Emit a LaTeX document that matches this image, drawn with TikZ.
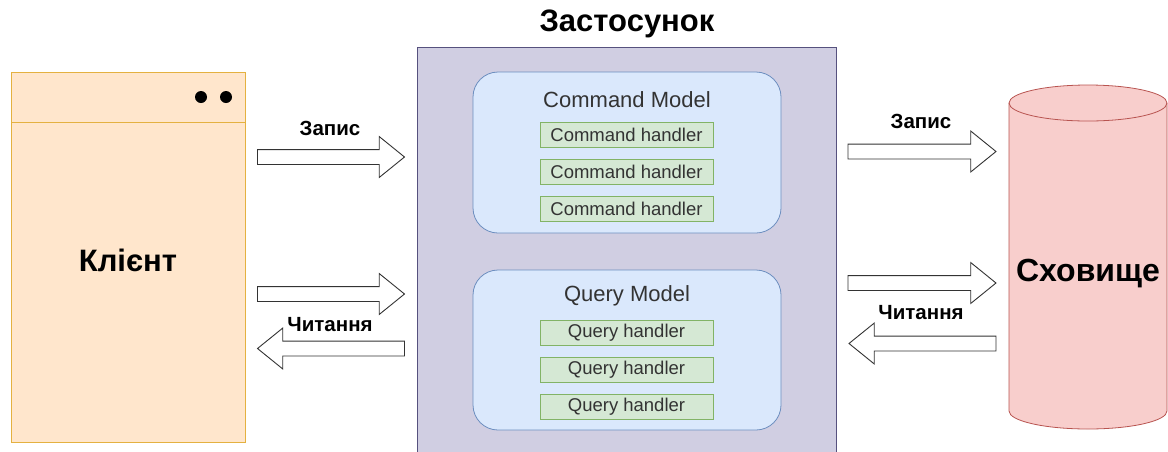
\documentclass[tikz,border=0pt]{standalone}
\usepackage{fontspec}
\setmainfont{Liberation Sans}
\usetikzlibrary{shapes.arrows}

\definecolor{clientfill}{HTML}{FFE6CC}
\definecolor{clientline}{HTML}{E4B140}
\definecolor{appfill}{HTML}{D0CEE2}
\definecolor{appline}{HTML}{56517E}
\definecolor{modelfill}{HTML}{DAE8FC}
\definecolor{modelline}{HTML}{6C8EBF}
\definecolor{handlerfill}{HTML}{D5E8D4}
\definecolor{handlerline}{HTML}{82B366}
\definecolor{storefill}{HTML}{F8CECC}
\definecolor{storeline}{HTML}{B85450}
\definecolor{arrowline}{HTML}{333333}
\definecolor{softtext}{HTML}{333333}

\begin{document}
\begin{tikzpicture}[x=1pt,y=-1pt,
  every node/.style={inner sep=0pt, outer sep=0pt},
  model/.style={draw=modelline, fill=modelfill, line width=0.8pt, rounded corners=25pt,
    minimum width=308pt},
  handler/.style={draw=handlerline, fill=handlerfill, line width=0.8pt,
    minimum width=173pt, minimum height=25pt, text=softtext, font=\fontsize{18.5}{20}\selectfont},
  modeltitle/.style={text=softtext, font=\fontsize{22}{24}\selectfont},
  blockarrow/.style={single arrow, draw=arrowline, fill=white, line width=0.9pt,
    inner xsep=0pt, inner ysep=7pt, single arrow head extend=13pt,
    single arrow tip angle=78, minimum height=147pt, anchor=tail},
  leftward/.style={shape border rotate=180},
  arrowlabel/.style={font=\bfseries\fontsize{20.5}{23}\selectfont},
  biglabel/.style={font=\bfseries\fontsize{31}{34}\selectfont}
]
\useasboundingbox (0,0) rectangle (1168,451);
\clip (0,0) rectangle (1168,451);

% client window
\node[draw=clientline, fill=clientfill, line width=0.9pt,
      minimum width=234pt, minimum height=370pt] (client) at (128,257) {};
\draw[clientline, line width=0.9pt] (11,122) -- (245,122);
\fill (201,97) circle[radius=6pt] (226,97) circle[radius=6pt];
\node[biglabel] (clientlabel) at (128,260) {Клієнт};

% application container
\node[draw=appline, fill=appfill, line width=0.8pt,
      minimum width=419pt, minimum height=420pt] (app) at (626.5,257) {};
\node[biglabel] (apptitle) at (627,24) {Застосунок};

% command side
\node[model, minimum height=161pt] (cmd) at (627,152.5) {};
\node[modeltitle] (cmdtitle) at (627,100) {Command Model};
\node[handler] (ch1) at (626.5,134.5) {Command handler};
\node[handler] (ch2) at (626.5,171.5) {Command handler};
\node[handler] (ch3) at (626.5,208.5) {Command handler};

% query side
\node[model, minimum height=160pt] (qry) at (627,350) {};
\node[modeltitle] (qrytitle) at (627,296) {Query Model};
\node[handler] (qh1) at (626.5,332.5) {Query handler};
\node[handler] (qh2) at (626.5,369.5) {Query handler};
\node[handler] (qh3) at (626.5,406.5) {Query handler};

% storage cylinder
\path[fill=storefill, draw=storeline, line width=0.8pt]
  (1009,103) -- (1009,411)
  arc[start angle=180, end angle=360, x radius=79pt, y radius=18pt]
  -- (1167,103)
  arc[start angle=0, end angle=180, x radius=79pt, y radius=18pt] -- cycle;
\draw[storeline, line width=0.8pt] (1009,103)
  arc[start angle=180, end angle=360, x radius=79pt, y radius=18pt];
\node[font=\bfseries\fontsize{32}{35}\selectfont] (store) at (1088,274) {Сховище};

% client <-> application
\node[blockarrow] (cw) at (257.5,157) {};
\node[arrowlabel] (cwlabel) at (330,128) {Запис};
\node[blockarrow] (cq) at (257.5,294) {};
\node[arrowlabel] (crlabel) at (330,325) {Читання};
\node[blockarrow, leftward] (cr) at (404.5,348.5) {};

% application <-> storage
\node[blockarrow, minimum height=148pt] (sw) at (848,151.5) {};
\node[arrowlabel] (swlabel) at (921,121) {Запис};
\node[blockarrow, minimum height=148pt] (sq) at (848,283) {};
\node[arrowlabel] (srlabel) at (921,313) {Читання};
\node[blockarrow, leftward] (sr) at (996,343.5) {};
\end{tikzpicture}
\end{document}
